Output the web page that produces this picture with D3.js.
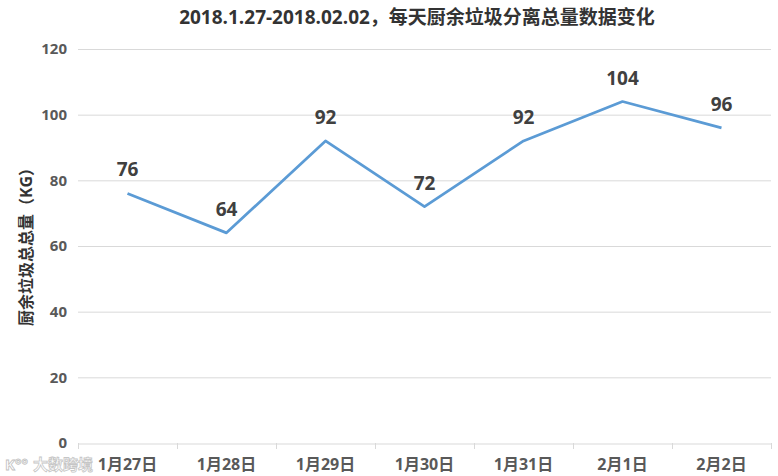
<!DOCTYPE html>
<html><head><meta charset="utf-8">
<script src="https://cdn.jsdelivr.net/npm/d3@7"></script>
<style>body{margin:0;background:#fff}svg{display:block;font-family:"Open Sans","Noto Sans CJK SC",sans-serif}</style>
</head><body><svg id="c" width="778" height="476"></svg>
<script>
const categories = ["1月27日","1月28日","1月29日","1月30日","1月31日","2月1日","2月2日"];
const values = [76,64,92,72,92,104,96];
const yTicks = [0,20,40,60,80,100,120];
const title = "2018.1.27-2018.02.02，每天厨余垃圾分离总量数据变化";
const yLabel = "厨余垃圾总总量（KG）";

const svg = d3.select("#c");
const pL = 78, pR = 771, pT = 49, pB = 443;
const x = d3.scaleBand().domain(categories).range([pL, pR]);
const y = d3.scaleLinear().domain([0,120]).range([pB, pT]);

svg.append("g").selectAll("line").data(yTicks.filter(d=>d>0)).join("line")
  .attr("x1", pL).attr("x2", pR).attr("y1", d=>y(d)+0.5).attr("y2", d=>y(d)+0.5)
  .attr("stroke", "#d9d9d9").attr("stroke-width", 1);

svg.append("g").selectAll("text").data(yTicks).join("text")
  .attr("x", 67).attr("y", d=>y(d)).attr("dy","0.35em").attr("text-anchor","end")
  .attr("font-size", 15).attr("font-weight","bold").attr("fill","#595959").text(d=>d);

const xa = svg.append("g").attr("transform",`translate(0,${pB+0.5})`)
  .call(d3.axisBottom(x).tickSize(0).tickFormat(""));
xa.select(".domain").attr("stroke","#d9d9d9");
const edges = categories.map(c=>x(c)).concat([pR]);
svg.append("g").selectAll("line").data(edges).join("line")
  .attr("x1", d=>d+0.5).attr("x2", d=>d+0.5).attr("y1", pB).attr("y2", pB+6)
  .attr("stroke","#d9d9d9");
svg.append("g").selectAll("text").data(categories).join("text")
  .attr("x", d=>x(d)+x.bandwidth()/2).attr("y", 470).attr("text-anchor","middle")
  .attr("font-size", 16).attr("font-weight","bold").attr("fill","#595959").text(d=>d);

const line = d3.line().x((d,i)=>x(categories[i])+x.bandwidth()/2).y(d=>y(d));
svg.append("path").datum(values).attr("d", line).attr("fill","none")
  .attr("stroke","#5b9bd5").attr("stroke-width",2.75).attr("stroke-linejoin","round");

svg.append("g").selectAll("text").data(values).join("text")
  .attr("x",(d,i)=>x(categories[i])+x.bandwidth()/2).attr("y", d=>y(d)-17)
  .attr("text-anchor","middle").attr("font-size",19).attr("font-weight","bold")
  .attr("fill","#404040").text(d=>d);

svg.append("text").attr("x", 417).attr("y", 24).attr("text-anchor","middle")
  .attr("font-size",19).attr("font-weight","bold").attr("fill","#333").text(title);

svg.append("text").attr("transform","translate(26,243) rotate(-90)").attr("text-anchor","middle")
  .attr("dy","0.35em").attr("font-size",16).attr("font-weight","bold").attr("fill","#333").text(yLabel);

svg.append("text").attr("x", 33).attr("y", 470).attr("font-size",15).attr("font-weight","bold")
  .attr("fill","#fff").attr("stroke","#c0c0c0").attr("stroke-width",0.8).attr("opacity",0.9).text("大数跨境");
svg.append("text").attr("x", 5).attr("y", 470).attr("font-size",15).attr("font-weight","bold")
  .attr("fill","#fff").attr("stroke","#c0c0c0").attr("stroke-width",0.8).text("K°°");
</script></body></html>
